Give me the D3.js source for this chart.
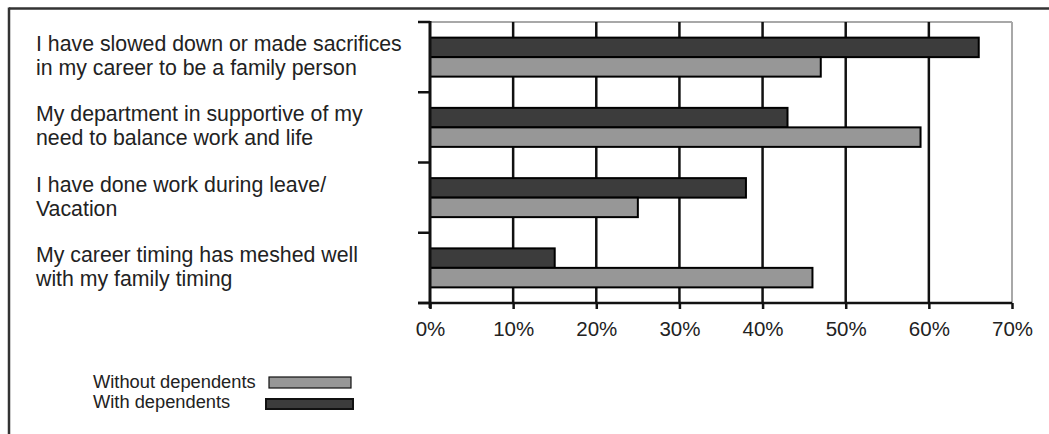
<!DOCTYPE html>
<html>
<head>
<meta charset="utf-8">
<script src="https://cdn.jsdelivr.net/npm/d3@7"></script>
<style>
  html, body { margin: 0; padding: 0; background: #fff; }
  svg { display: block; font-family: "Liberation Sans", Arial, sans-serif; }
</style>
</head>
<body>
<svg id="chart" width="1049" height="434"></svg>
<script>
// ---- data ----
const categories = [
  ["I have slowed down or made sacrifices", "in my career to be a family person"],
  ["My department in supportive of my", "need to balance work and life"],
  ["I have done work during leave/", "Vacation"],
  ["My career timing has meshed well", "with my family timing"]
];
const seriesNames = ["With dependents", "Without dependents"];
const withDependents = [66, 43, 38, 15];
const withoutDependents = [47, 59, 25, 46];
const xTicks = [0, 10, 20, 30, 40, 50, 60, 70];
const xTickLabels = ["0%", "10%", "20%", "30%", "40%", "50%", "60%", "70%"];

// ---- layout ----
const svg = d3.select("#chart");
const plot = { left: 430, right: 1012, top: 22, bottom: 303 };
const x = d3.scaleLinear().domain([0, 70]).range([plot.left, plot.right]);
const y = d3.scaleBand().domain(d3.range(categories.length)).range([plot.top, plot.bottom]);
const inner = d3.scaleBand().domain([0, 1]).range([0, 39]).padding(0);
const colors = ["#3c3c3c", "#979797"];

// outer frame (top + left)
svg.append("line").attr("x1", 9).attr("x2", 1049).attr("y1", 8.5).attr("y2", 8.5)
  .attr("stroke", "#333").attr("stroke-width", 2.5);
svg.append("line").attr("x1", 9).attr("x2", 9).attr("y1", 7.5).attr("y2", 434)
  .attr("stroke", "#333").attr("stroke-width", 2.5);

// plot border (gray top & right)
svg.append("line").attr("x1", plot.left).attr("x2", plot.right).attr("y1", plot.top).attr("y2", plot.top)
  .attr("stroke", "#a8a8a8").attr("stroke-width", 2);
svg.append("line").attr("x1", plot.right).attr("x2", plot.right).attr("y1", plot.top).attr("y2", plot.bottom)
  .attr("stroke", "#a8a8a8").attr("stroke-width", 2);

// gridlines
svg.append("g").selectAll("line").data(xTicks.filter(d => d > 0 && d < 70)).join("line")
  .attr("x1", d => x(d)).attr("x2", d => x(d))
  .attr("y1", plot.top).attr("y2", plot.bottom)
  .attr("stroke", "#111").attr("stroke-width", 2.5);

// bars
const groups = svg.append("g").selectAll("g").data(categories).join("g")
  .attr("transform", (d, i) => `translate(0,${y(i) + (y.bandwidth() - 39) / 2})`);
groups.each(function(d, i) {
  const vals = [withDependents[i], withoutDependents[i]];
  d3.select(this).selectAll("rect").data(vals).join("rect")
    .attr("x", x(0))
    .attr("y", (v, j) => inner(j))
    .attr("width", v => x(v) - x(0))
    .attr("height", inner.bandwidth())
    .attr("fill", (v, j) => colors[j])
    .attr("stroke", "#000").attr("stroke-width", 2);
});

// x axis
const xAxis = d3.axisBottom(x).tickValues(xTicks)
  .tickFormat((d, i) => xTickLabels[i]).tickSize(6).tickPadding(12);
const xg = svg.append("g").attr("transform", `translate(0,${plot.bottom})`).call(xAxis);
xg.select(".domain").remove();
xg.selectAll(".tick line").attr("stroke", "#111").attr("stroke-width", 2.5);
xg.selectAll(".tick text").attr("font-size", 20.5).attr("fill", "#222")
  .attr("font-family", '"Liberation Sans", Arial, sans-serif');
svg.append("line").attr("x1", 418).attr("x2", plot.right).attr("y1", plot.bottom).attr("y2", plot.bottom)
  .attr("stroke", "#111").attr("stroke-width", 2.5);

// y axis
const yTicks = d3.range(categories.length + 1).map(i => plot.top + i * y.step());
svg.append("g").selectAll("line").data(yTicks).join("line")
  .attr("x1", 418).attr("x2", plot.left).attr("y1", d => d).attr("y2", d => d)
  .attr("stroke", "#111").attr("stroke-width", 2.5);
svg.append("line").attr("x1", plot.left).attr("x2", plot.left).attr("y1", plot.top - 1).attr("y2", plot.bottom + 5)
  .attr("stroke", "#111").attr("stroke-width", 3);

// category labels
const lab = svg.append("g").selectAll("text").data(categories).join("text")
  .attr("x", 36)
  .attr("y", (d, i) => y(i) + y.bandwidth() / 2 - 6)
  .attr("font-size", 21.3).attr("fill", "#222");
lab.selectAll("tspan").data(d => d).join("tspan")
  .attr("x", 36).attr("dy", (d, j) => j === 0 ? 0 : 24).text(d => d);

// legend
const legend = [
  { name: seriesNames[1], color: colors[1], ty: 388, rx: 269, ry: 377, rw: 82, rh: 11, sw: 1.2 },
  { name: seriesNames[0], color: colors[0], ty: 408, rx: 266, ry: 399, rw: 87, rh: 10, sw: 2 }
];
const lg = svg.append("g");
lg.selectAll("text").data(legend).join("text")
  .attr("x", 93).attr("y", d => d.ty).attr("font-size", 18.3).attr("fill", "#222").text(d => d.name);
lg.selectAll("rect").data(legend).join("rect")
  .attr("x", d => d.rx).attr("y", d => d.ry).attr("width", d => d.rw).attr("height", d => d.rh)
  .attr("fill", d => d.color).attr("stroke", "#111").attr("stroke-width", d => d.sw);
</script>
</body>
</html>
